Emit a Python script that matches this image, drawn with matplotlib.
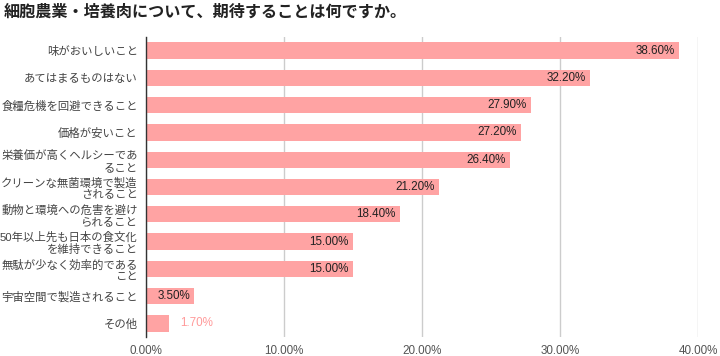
import matplotlib
matplotlib.use("Agg")
import matplotlib.pyplot as plt

plt.rcParams['font.family'] = ['Liberation Sans', 'Noto Sans CJK JP', 'DejaVu Sans']

title = "細胞農業・培養肉について、期待することは何ですか。"
categories = [
    "味がおいしいこと",
    "あてはまるものはない",
    "食糧危機を回避できること",
    "価格が安いこと",
    "栄養価が高くヘルシーであ\nること",
    "クリーンな無菌環境で製造\nされること",
    "動物と環境への危害を避け\nられること",
    "50年以上先も日本の食文化\nを維持できること",
    "無駄が少なく効率的である\nこと",
    "宇宙空間で製造されること",
    "その他",
]
values = [38.6, 32.2, 27.9, 27.2, 26.4, 21.2, 18.4, 15.0, 15.0, 3.5, 1.7]
xticks = [0, 10, 20, 30, 40]
xticklabels = ["0.00%", "10.00%", "20.00%", "30.00%", "40.00%"]

bar_color = "#FFA3A3"

fig = plt.figure(figsize=(7.2, 3.56), dpi=100)
ax = fig.add_axes([146 / 720, 1 - 337 / 356, (698 - 146) / 720, (337 - 37) / 356])

y = list(range(len(categories)))
ax.barh(y, values, height=0.6, color=bar_color, zorder=3)
ax.set_ylim(len(categories) - 0.5, -0.5)
ax.set_xlim(0, 40)

for yi, v in zip(y, values):
    label = f"{v:.2f}%"
    if v > 3:
        ax.text(v - 0.3, yi, label, ha="right", va="center", fontsize=8.4,
                color="#222222", zorder=4)
    else:
        ax.text(v + 0.8, yi, label, ha="left", va="center", fontsize=8.4,
                color="#FF9A9A", zorder=4)

ax.set_yticks(y)
ax.set_yticklabels(categories, fontsize=8.2, color="#444444", linespacing=1.2,
                   ha="right", multialignment="right")
ax.tick_params(axis="y", length=0, pad=6)
ax.set_xticks(xticks)
ax.set_xticklabels(xticklabels, fontsize=8.4, color="#555555")
ax.tick_params(axis="x", length=0, pad=6)

ax.grid(axis="x", color="#CCCCCC", linewidth=1, zorder=0)
for s in ["top", "right", "bottom"]:
    ax.spines[s].set_visible(False)
ax.spines["left"].set_color("#333333")
ax.spines["left"].set_linewidth(1)
ax.spines["left"].set_zorder(5)

fig.text(4 / 720, 1 - 12 / 356, title, fontsize=11.6, fontweight="bold",
         color="#222222", ha="left", va="center")

fig.savefig("out.png", dpi=100)
